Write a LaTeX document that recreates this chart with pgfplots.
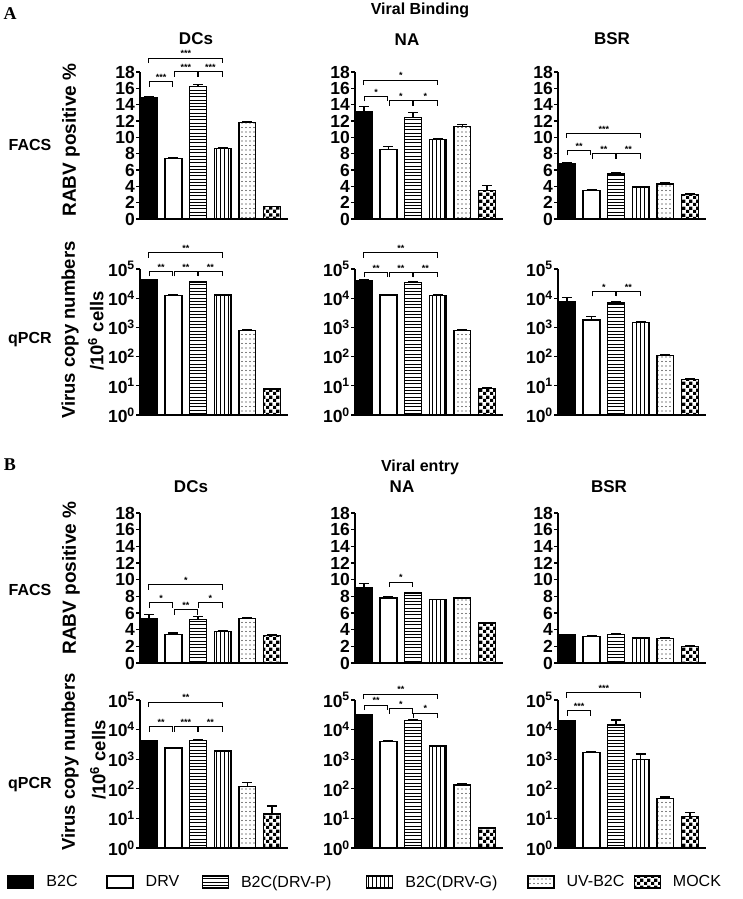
\documentclass[border=0pt]{standalone}
\usepackage{fontspec}
\setmainfont{Liberation Sans}
\newfontfamily\seriffont{Liberation Serif}
\usepackage{pgfplots}
\pgfplotsset{compat=1.18}
\usetikzlibrary{patterns}

\pgfdeclarepatternformonly{myh}{\pgfpoint{-1pt}{-1pt}}{\pgfpoint{100pt}{2pt}}{\pgfpoint{100pt}{3.3pt}}{%
  \pgfsetlinewidth{0.6pt}\pgfpathmoveto{\pgfqpoint{0pt}{0.5pt}}\pgfpathlineto{\pgfqpoint{100pt}{0.5pt}}\pgfusepath{stroke}}
\pgfdeclarepatternformonly{myv}{\pgfpoint{-1pt}{-1pt}}{\pgfpoint{2pt}{100pt}}{\pgfpoint{4pt}{100pt}}{%
  \pgfsetlinewidth{0.8pt}\pgfpathmoveto{\pgfqpoint{0.5pt}{0pt}}\pgfpathlineto{\pgfqpoint{0.5pt}{100pt}}\pgfusepath{stroke}}
\pgfdeclarepatternformonly{mydots}{\pgfpoint{-1pt}{-1pt}}{\pgfpoint{5pt}{5pt}}{\pgfpoint{4pt}{4.5pt}}{%
  \pgfpathcircle{\pgfqpoint{2pt}{2pt}}{0.55pt}\pgfusepath{fill}}
\pgfdeclarepatternformonly{mycheck}{\pgfpointorigin}{\pgfqpoint{7pt}{7pt}}{\pgfqpoint{7pt}{7pt}}{%
  \pgfpathrectangle{\pgfpointorigin}{\pgfqpoint{3.5pt}{3.5pt}}%
  \pgfpathrectangle{\pgfqpoint{3.5pt}{3.5pt}}{\pgfqpoint{3.5pt}{3.5pt}}%
  \pgfusepath{fill}}

\pgfplotsset{
  panel/.style={scale only axis, width=148pt, xmin=-0.36, xmax=5.65,
    axis lines*=left, axis line style={line width=1.3pt,-},
    xtick=\empty, ytick align=outside, ytick pos=left, major tick length=4pt,
    every tick/.style={line width=1.3pt, black}, clip=false,
    yticklabel style={font=\fontsize{17.5}{17.5}\selectfont\bfseries, inner sep=1pt},
    error bars/y dir=plus, error bars/y explicit,
    error bars/error bar style={line width=1.3pt, black},
    error bars/error mark options={rotate=90, mark size=5pt, line width=1.3pt, black},
    legend image code/.code={\draw[##1] (0pt,-6pt) rectangle (26pt,6pt); \path (38pt,0pt);},
    /pgf/number format/assume math mode=true},
  facs/.style={panel, ymin=0, ymax=18, ytick={0,2,...,18}},
  qpcr/.style={panel, ymin=1, ymax=100000, yminorticks=false,
    ytick={1,10,100,1000,10000,100000},
    yticklabels={10\textsuperscript{0},10\textsuperscript{1},10\textsuperscript{2},10\textsuperscript{3},10\textsuperscript{4},10\textsuperscript{5}}},
  bb/.style={ybar, bar width=0.68, bar shift=0pt, draw=black, line width=1.3pt},
  s1/.style={bb, fill=black},
  s2/.style={bb, fill=white},
  s3/.style={bb, pattern=myh},
  s4/.style={bb, pattern=myv},
  s5/.style={bb, pattern=mydots},
  s6/.style={bb, pattern=mycheck},
}

\newcommand{\br}[4]{%
  \draw[line width=1pt] (axis cs:#1,#3) ++(0pt,-5pt) -- ++(0pt,5pt) -- (axis cs:#2,#3) -- ++(0pt,-5pt);
  \node[font=\fontsize{9}{9}\selectfont\bfseries, inner sep=1pt, anchor=south] at (axis cs:{(#1+#2)/2},#3) {#4};}

\newcommand{\lab}[4]{\node[font=#1] at (#2pt,#3pt) {#4};}
\newcommand{\rlab}[4]{\node[font=#1, rotate=90] at (#2pt,#3pt) {#4};}

\begin{document}
\begin{tikzpicture}
\path[use as bounding box] (0pt,0pt) rectangle (742pt,899pt);

% ---------- texts ----------
\lab{\seriffont\fontsize{18}{18}\selectfont\bfseries}{10}{885}{A}
\lab{\fontsize{16}{16}\selectfont\bfseries}{420}{889}{Viral Binding}
\lab{\fontsize{17}{17}\selectfont\bfseries}{196}{860}{DCs}
\lab{\fontsize{17}{17}\selectfont\bfseries}{407}{859}{NA}
\lab{\fontsize{17}{17}\selectfont\bfseries}{612}{860}{BSR}
\lab{\fontsize{16}{16}\selectfont\bfseries}{30}{754}{FACS}
\lab{\fontsize{16}{16}\selectfont\bfseries}{30}{559}{qPCR}
\rlab{\fontsize{19}{19}\selectfont\bfseries}{71}{759}{RABV positive \%}
\rlab{\fontsize{18.5}{18.5}\selectfont\bfseries}{70}{569}{Virus copy numbers}
\rlab{\fontsize{18.5}{18.5}\selectfont\bfseries}{96}{568}{/10\textsuperscript{6} cells}

\lab{\seriffont\fontsize{18}{18}\selectfont\bfseries}{10}{434}{B}
\lab{\fontsize{16}{16}\selectfont\bfseries}{420}{432}{Viral entry}
\lab{\fontsize{17}{17}\selectfont\bfseries}{191}{412}{DCs}
\lab{\fontsize{17}{17}\selectfont\bfseries}{402}{412}{NA}
\lab{\fontsize{17}{17}\selectfont\bfseries}{609}{412}{BSR}
\lab{\fontsize{16}{16}\selectfont\bfseries}{30}{309}{FACS}
\lab{\fontsize{16}{16}\selectfont\bfseries}{30}{114}{qPCR}
\rlab{\fontsize{19}{19}\selectfont\bfseries}{71}{321}{RABV positive \%}
\rlab{\fontsize{18.5}{18.5}\selectfont\bfseries}{70}{137}{Virus copy numbers}
\rlab{\fontsize{18.5}{18.5}\selectfont\bfseries}{98}{139}{/10\textsuperscript{6} cells}

% ================= A: Viral binding, FACS =================
\begin{axis}[facs, height=147pt, at={(140pt,680pt)}, anchor=south west]
\addplot[s1] coordinates {(0,14.8) +- (0,0.15)};
\addplot[s2] coordinates {(1,7.4) +- (0,0.15)};
\addplot[s3] coordinates {(2,16.2) +- (0,0.3)};
\addplot[s4] coordinates {(3,8.6) +- (0,0.1)};
\addplot[s5] coordinates {(4,11.8) +- (0,0.1)};
\addplot[s6] coordinates {(5,1.5) +- (0,0.05)};
\br{0.03}{0.97}{16.8}{***}
\br{1.03}{1.97}{18.0}{***}
\br{2.03}{2.97}{18.0}{***}
\br{0}{3}{19.7}{***}
\end{axis}

\begin{axis}[facs, height=147pt, at={(355pt,680pt)}, anchor=south west]
\addplot[s1] coordinates {(0,13.1) +- (0,0.7)};
\addplot[s2] coordinates {(1,8.5) +- (0,0.4)};
\addplot[s3] coordinates {(2,12.4) +- (0,0.6)};
\addplot[s4] coordinates {(3,9.7) +- (0,0.15)};
\addplot[s5] coordinates {(4,11.3) +- (0,0.3)};
\addplot[s6] coordinates {(5,3.5) +- (0,0.6)};
\br{0.03}{0.97}{15.0}{*}
\br{1.03}{1.97}{14.5}{*}
\br{2.03}{2.97}{14.5}{*}
\br{0}{3}{17.0}{*}
\end{axis}

\begin{axis}[facs, height=147pt, at={(558pt,680pt)}, anchor=south west]
\addplot[s1] coordinates {(0,6.8) +- (0,0.05)};
\addplot[s2] coordinates {(1,3.5) +- (0,0.1)};
\addplot[s3] coordinates {(2,5.5) +- (0,0.12)};
\addplot[s4] coordinates {(3,3.9) +- (0,0.05)};
\addplot[s5] coordinates {(4,4.3) +- (0,0.2)};
\addplot[s6] coordinates {(5,3.0) +- (0,0.05)};
\br{0.03}{0.97}{8.4}{**}
\br{1.03}{1.97}{8.0}{**}
\br{2.03}{2.97}{8.0}{**}
\br{0}{3}{10.5}{***}
\end{axis}

% ================= A: Viral binding, qPCR =================
\begin{axis}[ymode=log, qpcr, height=146pt, at={(140pt,484pt)}, anchor=south west]
\addplot[s1] coordinates {(0,43000) +- (0,1500)};
\addplot[s2] coordinates {(1,12500) +- (0,500)};
\addplot[s3] coordinates {(2,36000) +- (0,2000)};
\addplot[s4] coordinates {(3,13000) +- (0,500)};
\addplot[s5] coordinates {(4,780) +- (0,30)};
\addplot[s6] coordinates {(5,7.8) +- (0,0.4)};
\br{0.03}{0.97}{83176}{**}
\br{1.03}{1.97}{83176}{**}
\br{2.03}{2.97}{83176}{**}
\br{0}{3}{354813}{**}
\end{axis}

\begin{axis}[ymode=log, qpcr, height=146pt, at={(355pt,484pt)}, anchor=south west]
\addplot[s1] coordinates {(0,41000) +- (0,1000)};
\addplot[s2] coordinates {(1,12800) +- (0,400)};
\addplot[s3] coordinates {(2,35000) +- (0,3000)};
\addplot[s4] coordinates {(3,12600) +- (0,400)};
\addplot[s5] coordinates {(4,770) +- (0,50)};
\addplot[s6] coordinates {(5,7.9) +- (0,0.5)};
\br{0.03}{0.97}{75858}{**}
\br{1.03}{1.97}{75858}{**}
\br{2.03}{2.97}{75858}{**}
\br{0}{3}{354813}{**}
\end{axis}

\begin{axis}[ymode=log, qpcr, height=146pt, at={(558pt,484pt)}, anchor=south west]
\addplot[s1] coordinates {(0,7900) +- (0,2700)};
\addplot[s2] coordinates {(1,1800) +- (0,500)};
\addplot[s3] coordinates {(2,6800) +- (0,700)};
\addplot[s4] coordinates {(3,1500) +- (0,50)};
\addplot[s5] coordinates {(4,110) +- (0,8)};
\addplot[s6] coordinates {(5,16.6) +- (0,1.5)};
\br{1.03}{1.97}{16982}{*}
\br{2.03}{2.97}{16982}{**}
\end{axis}

% ================= B: Viral entry, FACS =================
\begin{axis}[facs, height=150pt, at={(140pt,236pt)}, anchor=south west]
\addplot[s1] coordinates {(0,5.3) +- (0,0.5)};
\addplot[s2] coordinates {(1,3.4) +- (0,0.2)};
\addplot[s3] coordinates {(2,5.2) +- (0,0.4)};
\addplot[s4] coordinates {(3,3.8) +- (0,0.1)};
\addplot[s5] coordinates {(4,5.3) +- (0,0.1)};
\addplot[s6] coordinates {(5,3.3) +- (0,0.1)};
\br{0.03}{0.97}{7.2}{*}
\br{1.03}{1.97}{6.4}{**}
\br{2.03}{2.97}{7.2}{*}
\br{0}{3}{9.4}{*}
\end{axis}

\begin{axis}[facs, height=150pt, at={(355pt,236pt)}, anchor=south west]
\addplot[s1] coordinates {(0,9.1) +- (0,0.45)};
\addplot[s2] coordinates {(1,7.8) +- (0,0.15)};
\addplot[s3] coordinates {(2,8.4) +- (0,0.1)};
\addplot[s4] coordinates {(3,7.6) +- (0,0.05)};
\addplot[s5] coordinates {(4,7.8) +- (0,0.05)};
\addplot[s6] coordinates {(5,4.8) +- (0,0.05)};
\br{1.03}{1.97}{9.7}{*}
\end{axis}

\begin{axis}[facs, height=150pt, at={(558pt,236pt)}, anchor=south west]
\addplot[s1] coordinates {(0,3.35) +- (0,0.08)};
\addplot[s2] coordinates {(1,3.15) +- (0,0.1)};
\addplot[s3] coordinates {(2,3.45) +- (0,0.12)};
\addplot[s4] coordinates {(3,3.0) +- (0,0.1)};
\addplot[s5] coordinates {(4,2.9) +- (0,0.1)};
\addplot[s6] coordinates {(5,2.0) +- (0,0.08)};
\end{axis}

% ================= B: Viral entry, qPCR =================
\begin{axis}[ymode=log, qpcr, height=148pt, at={(140pt,51pt)}, anchor=south west,
  legend columns=6,
  legend style={at={(rel axis cs:-0.899,-0.23)}, anchor=west, draw=none, fill=none,
    font=\fontsize{16}{16}\selectfont, column sep=0pt, inner sep=0pt,
    nodes={inner sep=0pt}, cells={anchor=west}}]
\addplot[s1] coordinates {(0,4200) +- (0,200)};
\addplot[s2] coordinates {(1,2400) +- (0,100)};
\addplot[s3] coordinates {(2,4400) +- (0,200)};
\addplot[s4] coordinates {(3,1900) +- (0,80)};
\addplot[s5] coordinates {(4,120) +- (0,45)};
\addplot[s6] coordinates {(5,14) +- (0,12)};
\addlegendentry{\makebox[60pt][l]{B2C}}
\addlegendentry{\makebox[56pt][l]{DRV}}
\addlegendentry{\makebox[125pt][l]{B2C(DRV-P)}}
\addlegendentry{\makebox[122pt][l]{B2C(DRV-G)}}
\addlegendentry{\makebox[67pt][l]{UV-B2C}}
\addlegendentry{\makebox[66pt][l]{MOCK}}
\br{0.03}{0.97}{12303}{**}
\br{1.03}{1.97}{12303}{***}
\br{2.03}{2.97}{12303}{**}
\br{0}{3}{85114}{**}
\end{axis}

\begin{axis}[ymode=log, qpcr, height=148pt, at={(355pt,51pt)}, anchor=south west]
\addplot[s1] coordinates {(0,31000) +- (0,1500)};
\addplot[s2] coordinates {(1,4000) +- (0,400)};
\addplot[s3] coordinates {(2,20000) +- (0,2000)};
\addplot[s4] coordinates {(3,2800) +- (0,100)};
\addplot[s5] coordinates {(4,135) +- (0,20)};
\addplot[s6] coordinates {(5,4.7) +- (0,0.3)};
\br{0.03}{0.97}{67608}{**}
\br{1.03}{1.97}{50119}{*}
\br{2.03}{2.97}{36308}{*}
\br{0}{3}{158489}{**}
\end{axis}

\begin{axis}[ymode=log, qpcr, height=148pt, at={(558pt,51pt)}, anchor=south west]
\addplot[s1] coordinates {(0,20000) +- (0,600)};
\addplot[s2] coordinates {(1,1700) +- (0,50)};
\addplot[s3] coordinates {(2,14400) +- (0,6500)};
\addplot[s4] coordinates {(3,980) +- (0,530)};
\addplot[s5] coordinates {(4,47) +- (0,6)};
\addplot[s6] coordinates {(5,11.7) +- (0,3.9)};
\br{0.03}{0.97}{43652}{***}
\br{0}{3}{177828}{***}
\end{axis}
\end{tikzpicture}
\end{document}
